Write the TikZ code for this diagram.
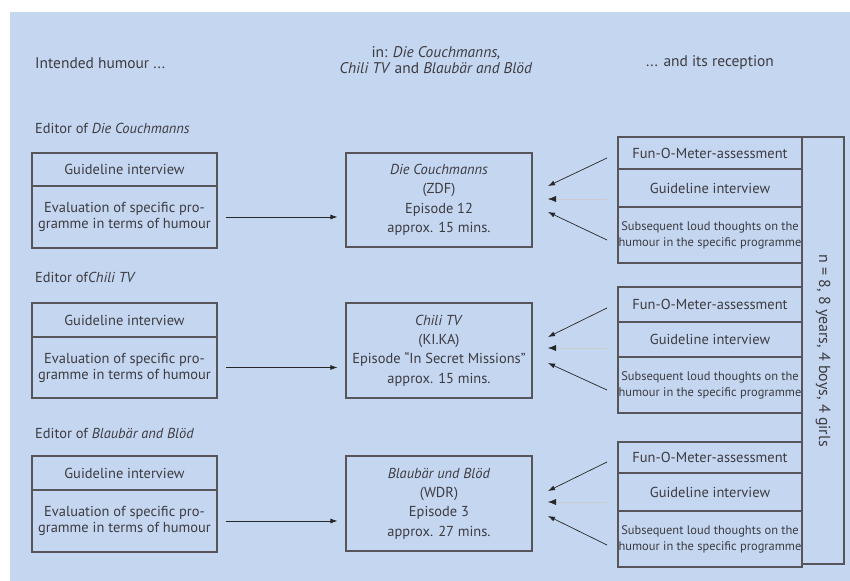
\documentclass[tikz,border=0pt]{standalone}
\usepackage{fontspec}
\setmainfont{PT Sans}
\usetikzlibrary{arrows.meta}
\definecolor{bg}{RGB}{197,214,241}
\definecolor{ln}{RGB}{85,85,90}
\definecolor{tx}{RGB}{60,60,65}
\begin{document}
\begin{tikzpicture}[x=1bp,y=-1bp,
  box/.style={draw=ln, line width=1.2bp, inner sep=0pt, align=center, text=tx,
    font=\fontsize{14.5}{16}\selectfont},
  cbox/.style={box, font=\fontsize{14.5}{19.5}\selectfont},
  sbox/.style={box, font=\fontsize{12.5}{16}\selectfont},
  lbl/.style={inner sep=0pt, text=tx, font=\fontsize{14.5}{16}\selectfont},
  hlbl/.style={lbl, font=\fontsize{15.5}{16}\selectfont},
  arr/.style={-{Latex[length=7bp,width=5bp]}, line width=0.7bp, draw=black!85},
  marr/.style={-{Latex[length=8bp,width=6bp,black!85]}, line width=0.4bp, draw=black!20}
]
\useasboundingbox (0,0) rectangle (850,581);
\fill[bg] (10,12) rectangle (850,581);

% headers
\node[hlbl, anchor=west] (h1) at (35,63) {Intended humour ...};
\node[hlbl, align=center] (h2) at (436,60) {in: \textit{Die Couchmanns,}\\\textit{Chili TV} and \textit{Blaubär and Blöd}};
\node[hlbl] (h3) at (710,63) {... and its reception};

\node[lbl, anchor=west] (e1) at (35,128) {Editor of \textit{Die Couchmanns}};
\node[lbl, anchor=west] (e2) at (35,277) {Editor of\textit{Chili TV}};
\node[lbl, anchor=west] (e3) at (35,433) {Editor of \textit{Blaubär and Blöd}};

% left boxes
\node[box, minimum width=185bp, minimum height=33bp] (lg1) at (124.5,169.5) {Guideline interview};
\node[box, minimum width=185bp, minimum height=62bp] (le1) at (124.5,217) {Evaluation of specific pro-\\gramme in terms of humour};
\node[box, minimum width=185bp, minimum height=34bp] (lg2) at (124.5,320) {Guideline interview};
\node[box, minimum width=185bp, minimum height=61bp] (le2) at (124.5,367.5) {Evaluation of specific pro-\\gramme in terms of humour};
\node[box, minimum width=185bp, minimum height=34bp] (lg3) at (124.5,473) {Guideline interview};
\node[box, minimum width=185bp, minimum height=62bp] (le3) at (124.5,521) {Evaluation of specific pro-\\gramme in terms of humour};

% centre boxes
\node[cbox, minimum width=186bp, minimum height=94bp] (cb1) at (439,200) {\textit{Die Couchmanns}\\(ZDF)\\Episode 12\\approx. 15 mins.};
\node[cbox, minimum width=186bp, minimum height=95bp] (cb2) at (439,350.5) {\textit{Chili TV}\\(KI.KA)\\Episode “In Secret Missions”\\approx. 15 mins.};
\node[cbox, minimum width=186bp, minimum height=95bp] (cb3) at (439,503.5) {\textit{Blaubär und Blöd}\\(WDR)\\Episode 3\\approx. 27 mins.};

% right stacks
\node[box, minimum width=184bp, minimum height=32bp] (f1) at (710,153) {Fun-O-Meter-assessment};
\node[box, minimum width=184bp, minimum height=38bp] (g1) at (710,188) {Guideline interview};
\node[sbox, minimum width=184bp, minimum height=56bp] (s1) at (710,235) {Subsequent loud thoughts on the\\humour in the specific programme};
\node[box, minimum width=184bp, minimum height=35bp] (f2) at (710,304.5) {Fun-O-Meter-assessment};
\node[box, minimum width=184bp, minimum height=35bp] (g2) at (710,339.5) {Guideline interview};
\node[sbox, minimum width=184bp, minimum height=56bp] (s2) at (710,385) {Subsequent loud thoughts on the\\humour in the specific programme};
\node[box, minimum width=184bp, minimum height=31bp] (f3) at (710,457.5) {Fun-O-Meter-assessment};
\node[box, minimum width=184bp, minimum height=38bp] (g3) at (710,492) {Guideline interview};
\node[sbox, minimum width=184bp, minimum height=56bp] (s3) at (710,539) {Subsequent loud thoughts on the\\humour in the specific programme};

% sample bar
\node[box, minimum width=42bp, minimum height=427bp] (bar) at (823,350.5) {};
\node[lbl, rotate=-90, font=\fontsize{16}{16}\selectfont] (n) at (bar.center) {n = 8, 8 years, 4 boys, 4 girls};

% left arrows
\draw[arr, shorten <=8bp, shorten >=8bp] (le1.east) -- (le1.east -| cb1.west);
\draw[arr, shorten <=8bp, shorten >=8bp] (le2.east) -- (le2.east -| cb2.west);
\draw[arr, shorten <=8bp, shorten >=8bp] (le3.east) -- (le3.east -| cb3.west);

% right arrows
\coordinate (a1t) at (607,158); \coordinate (b1t) at (548,186);
\coordinate (a1m) at (607,199); \coordinate (b1m) at (548,199);
\coordinate (a1b) at (607,240); \coordinate (b1b) at (548,212);
\coordinate (a2t) at (607,308); \coordinate (b2t) at (548,337);
\coordinate (a2m) at (607,348); \coordinate (b2m) at (548,348);
\coordinate (a2b) at (607,390); \coordinate (b2b) at (548,363);
\coordinate (a3t) at (607,462); \coordinate (b3t) at (548,491);
\coordinate (a3m) at (607,502); \coordinate (b3m) at (548,502);
\coordinate (a3b) at (607,545); \coordinate (b3b) at (548,516);
\foreach \i in {1,2,3}{
  \draw[arr] (a\i t) -- (b\i t);
  \draw[arr] (a\i b) -- (b\i b);
  \draw[marr] (a\i m) -- (b\i m);
}
\end{tikzpicture}
\end{document}
